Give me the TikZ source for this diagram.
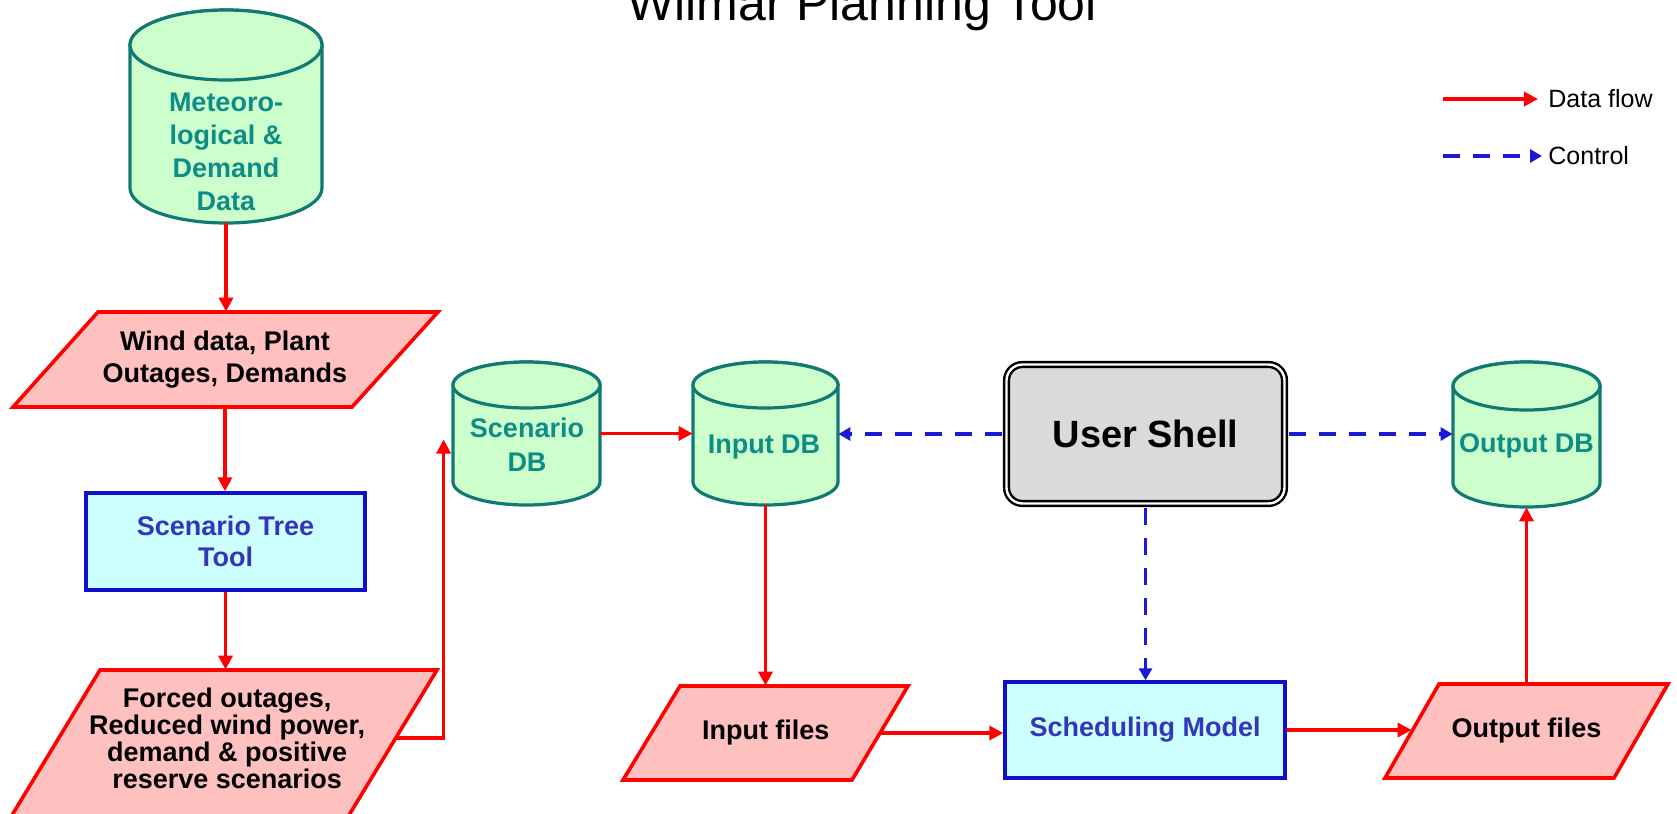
\documentclass[tikz,border=0pt]{standalone}
\usepackage{fontspec}
\setmainfont{Liberation Sans}
\usetikzlibrary{arrows.meta,calc}
\definecolor{cylfill}{HTML}{CCFFCC}
\definecolor{cylline}{HTML}{107A72}
\definecolor{cyltext}{HTML}{0E8C86}
\definecolor{parfill}{HTML}{FFC0C0}
\definecolor{parline}{HTML}{FF0000}
\definecolor{boxfill}{HTML}{CCFFFF}
\definecolor{boxline}{HTML}{1010CC}
\definecolor{boxtext}{HTML}{3535BB}
\definecolor{flowred}{HTML}{FF0000}
\definecolor{ctrlblue}{HTML}{1A1AD6}
\definecolor{shellfill}{HTML}{DADADA}

\newcommand{\cylshape}[5]{%
  \pgfmathsetmacro{\cxl}{#1-#4}%
  \pgfmathsetmacro{\cxr}{#1+#4}%
  \pgfmathsetmacro{\cyt}{#2+#5}%
  \pgfmathsetmacro{\cyb}{#3-#5}%
  \pgfmathsetmacro{\crx}{#4/2}%
  \pgfmathsetmacro{\cry}{#5/2}%
  \filldraw[cylstyle] (\cxl,\cyt) -- (\cxl,\cyb) arc[start angle=180,end angle=360,x radius=\crx pt,y radius=\cry pt] -- (\cxr,\cyt) arc[start angle=0,end angle=180,x radius=\crx pt,y radius=\cry pt] -- cycle;
  \draw[cylstyle] (#1,\cyt) ellipse[x radius=\crx pt,y radius=\cry pt];
}

\tikzset{
  cylstyle/.style={fill=cylfill, draw=cylline, line width=1.6pt},
  dbtxt/.style={text=cyltext, font=\bfseries\fontsize{13.5}{16}\selectfont, align=center, inner sep=0pt},
  anchorbox/.style={draw=none, fill=none, inner sep=0pt, rectangle},
  parstyle/.style={fill=parfill, draw=parline, line width=1.8pt, line join=miter},
  partxt/.style={font=\bfseries\fontsize{13.5}{16}\selectfont, text=black, align=center, inner sep=0pt, rectangle},
  procbox/.style={rectangle, fill=boxfill, draw=boxline, line width=1.7pt, text=boxtext, font=\bfseries\fontsize{13.5}{15.5}\selectfont, align=center, inner sep=0pt},
  shellbox/.style={rectangle, rounded corners=8pt, draw=black, line width=1.2pt, double=white, double distance=1.2pt, fill=shellfill, font=\bfseries\fontsize{19}{22}\selectfont, inner sep=0pt},
  dataflow/.style={draw=flowred, line width=1.7pt, -{Triangle[length=7pt,width=7pt]}},
  ctrlflow/.style={draw=ctrlblue, line width=1.7pt, dash pattern=on 8.5pt off 6.5pt, -{Triangle[length=6pt,width=6.5pt]}},
  legtxt/.style={font=\fontsize{12.5}{15}\selectfont, inner sep=0pt, anchor=west}
}

\begin{document}
\begin{tikzpicture}[x=0.5pt, y=-0.5pt]
\useasboundingbox (0,0) rectangle (1677,814);
\clip (0,0) rectangle (1677,814);
\fill[white] (0,0) rectangle (1677,814);

% title
\node[font=\fontsize{25}{30}\selectfont, anchor=base, inner sep=0pt] (title) at (862,20) {Wilmar Planning Tool};

% legend
\coordinate (lgflow) at (1443,99);
\node[legtxt] (lgflowtxt) at (1548,99) {Data flow};
\draw[dataflow] (lgflow) -- ([xshift=-5pt]lgflowtxt.west);
\coordinate (lgctrl) at (1443,156);
\node[legtxt] (lgctrltxt) at (1548,156) {Control};
\draw[ctrlflow] (lgctrl) -- ([xshift=-3pt]lgctrltxt.west);

% meteorological data
\cylshape{226}{10}{223}{96}{35}
\node[anchorbox, minimum width=96pt, minimum height=106.5pt] (meteo) at (226,116.5) {};
\node[dbtxt, font=\bfseries\fontsize{13.5}{16.5}\selectfont] (meteotxt) at (226,152) {Meteoro-\\logical \&\\Demand\\Data};

% wind data
\filldraw[parstyle] (98,312) -- (438,312) -- (352,407) -- (13,407) -- cycle;
\node[partxt, minimum width=169.75pt, minimum height=47.5pt] (wind) at (225,359.5) {Wind data, Plant\\Outages, Demands};

% scenario tree tool
\node[procbox, minimum width=139.5pt, minimum height=48.5pt] (tree) at (225.5,541.5) {Scenario Tree\\Tool};

% forced outages
\filldraw[parstyle] (100,670) -- (437,670) -- (340,830) -- (3,830) -- cycle;
\node[partxt, font=\bfseries\fontsize{13.5}{13.5}\selectfont, minimum width=168.5pt, minimum height=68pt] (forced) at (227.2,738) {Forced outages,\\Reduced wind power,\\demand \& positive\\reserve scenarios};

% scenario DB
\cylshape{526.5}{362}{505}{73.5}{23}
\node[anchorbox, minimum width=73.5pt, minimum height=71.5pt] (scen) at (526.5,433.5) {};
\node[dbtxt, font=\bfseries\fontsize{13.5}{17}\selectfont] (scentxt) at (527,445) {Scenario\\DB};

% input DB
\cylshape{765.5}{362}{505}{72.5}{23}
\node[anchorbox, minimum width=72.5pt, minimum height=71.5pt] (inpdb) at (765.5,433.5) {};
\node[dbtxt] (inpdbtxt) at (764,447) {Input DB};

% output DB
\cylshape{1526.5}{362}{507}{73.5}{24}
\node[anchorbox, minimum width=73.5pt, minimum height=72.5pt] (outdb) at (1526.5,434.5) {};
\node[dbtxt] (outdbtxt) at (1526.5,446) {Output DB};

% user shell
\node[shellbox, minimum width=139pt, minimum height=69.5pt] (shell) at (1145.5,434) {User Shell};

% input files
\filldraw[parstyle] (680,686) -- (908,686) -- (852,780) -- (623,780) -- cycle;
\node[partxt, minimum width=114.25pt, minimum height=47pt] (inpf) at (765.75,733) {Input files};

% scheduling model
\node[procbox, minimum width=140pt, minimum height=48pt] (sched) at (1145,730) {Scheduling Model};

% output files
\filldraw[parstyle] (1439,684) -- (1668,684) -- (1614,778) -- (1385,778) -- cycle;
\node[partxt, minimum width=114.5pt, minimum height=47pt] (outf) at (1526.5,731) {Output files};

% data flow connectors
\draw[dataflow] (meteo.south) -- (meteo.south |- wind.north);
\draw[dataflow] (wind.south) -- (wind.south |- tree.north);
\draw[dataflow] (tree.south) -- (tree.south |- forced.north);
\draw[dataflow] (forced.east) -| ([xshift=-4.5pt,yshift=-3pt]scen.west);
\draw[dataflow] (scen.east) -- (inpdb.west);
\draw[dataflow] (inpdb.south) -- (inpdb.south |- inpf.north);
\draw[dataflow] (inpf.east) -- (inpf.east -| sched.west);
\draw[dataflow] (sched.east) -- (sched.east -| outf.west);
\draw[dataflow] (outf.north) -- (outdb.south);

% control connectors
\draw[ctrlflow, shorten <=1.8pt] (shell.west) -- (shell.west -| inpdb.east);
\draw[ctrlflow, shorten <=1.8pt] (shell.east) -- (shell.east -| outdb.west);
\draw[ctrlflow, shorten <=1.8pt] (shell.south) -- (shell.south |- sched.north);
\end{tikzpicture}
\end{document}
